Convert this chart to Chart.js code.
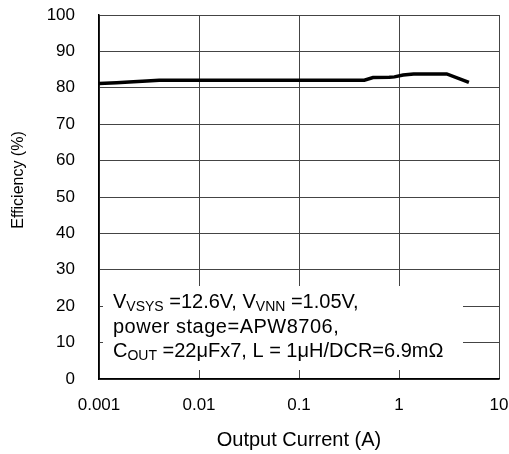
<!DOCTYPE html>
<html>
<head>
<meta charset="utf-8">
<script src="https://cdn.jsdelivr.net/npm/chart.js@4"></script>
<style>
  html, body { margin: 0; padding: 0; background: #fff; }
  #wrap { width: 509px; height: 454px; }
</style>
</head>
<body>
<div id="wrap"><canvas id="effChart" width="509" height="454"></canvas></div>
<script>
// Efficiency vs output current
const current = [0.001, 0.0015, 0.002, 0.003, 0.004, 0.01, 0.1, 0.45, 0.55, 0.8, 0.9, 1.1, 1.4, 3.0, 5.0];
const efficiency = [81.2, 81.4, 81.6, 81.9, 82.1, 82.1, 82.1, 82.1, 82.8, 82.9, 83.0, 83.5, 83.8, 83.8, 81.5];
const xTicks = [0.001, 0.01, 0.1, 1, 10];
const xTickLabels = ['0.001', '0.01', '0.1', '1', '10'];

const FONT = "'Liberation Sans', Arial, sans-serif";

const points = current.map((c, i) => ({ x: c, y: efficiency[i] }));

// white box with conditions text + y title
const notePlugin = {
  id: 'note',
  beforeDatasetsDraw(chart) {
    const ctx = chart.ctx;
    ctx.save();
    ctx.fillStyle = '#fff';
    ctx.fillRect(103, 286, 360, 84);
    ctx.fillStyle = '#000';
    ctx.textBaseline = 'alphabetic';
    const big = '20px ' + FONT, small = '14px ' + FONT;
    const lines = [
      { y: 308, sp: 0, parts: [['V', 0], ['VSYS', 1], [' =12.6V, V', 0], ['VNN', 1], [' =1.05V,', 0]] },
      { y: 333, sp: 0.5, parts: [['power stage=APW8706,', 0]] },
      { y: 357, sp: 0, parts: [['C', 0], ['OUT', 1], [' =22\u03bcFx7, L = 1\u03bcH/DCR=6.9m\u03a9', 0]] }
    ];
    lines.forEach(l => {
      let x = 113;
      ctx.letterSpacing = l.sp + 'px';
      l.parts.forEach(([t, sub]) => {
        ctx.font = sub ? small : big;
        ctx.fillText(t, x, l.y + (sub ? 3 : 0));
        x += ctx.measureText(t).width;
      });
    });
    ctx.restore();
  },
  afterDraw(chart) {
    const ctx = chart.ctx;
    ctx.save();
    ctx.translate(19, 180);
    ctx.rotate(-Math.PI / 2);
    ctx.font = '16px ' + FONT;
    ctx.fillStyle = '#000';
    ctx.textAlign = 'center';
    ctx.textBaseline = 'middle';
    ctx.fillText('Efficiency (%)', 0, 0);
    ctx.restore();
  }
};

new Chart(document.getElementById('effChart'), {
  type: 'line',
  data: {
    datasets: [{
      data: points,
      borderColor: '#000',
      borderWidth: 3.5,
      pointRadius: 0,
      tension: 0,
      fill: false
    }]
  },
  options: {
    responsive: false,
    maintainAspectRatio: false,
    animation: false,
    layout: { padding: { top: 15, right: 10, left: 0, bottom: 0 } },
    plugins: { legend: { display: false }, tooltip: { enabled: false } },
    scales: {
      x: {
        type: 'logarithmic',
        min: 0.001,
        max: 10,
        afterBuildTicks(axis) { axis.ticks = xTicks.map(v => ({ value: v })); },
        afterFit(axis) {
          axis.height = 75;
          axis.paddingLeft = 0;
          axis.paddingRight = 0;
        },
        grid: { color: '#444', lineWidth: 1, drawTicks: false },
        border: { color: '#000', width: 1.5 },
        ticks: {
          color: '#000',
          font: { family: FONT, size: 17 },
          padding: 16,
          maxRotation: 0,
          autoSkip: false,
          callback: (v, i) => xTickLabels[i]
        },
        title: {
          display: true,
          text: 'Output Current (A)',
          color: '#000',
          font: { family: FONT, size: 20 },
          padding: { top: 8, bottom: 2 }
        }
      },
      y: {
        min: 0,
        max: 100,
        afterFit(axis) {
          axis.width = 99;
          axis.paddingTop = 0;
          axis.paddingBottom = 0;
        },
        grid: { color: '#444', lineWidth: 1, drawTicks: false },
        border: { color: '#000', width: 1.5 },
        ticks: {
          stepSize: 10,
          color: '#000',
          font: { family: FONT, size: 17 },
          padding: 24
        },
        title: { display: false }
      }
    }
  },
  plugins: [notePlugin]
});
</script>
</body>
</html>
